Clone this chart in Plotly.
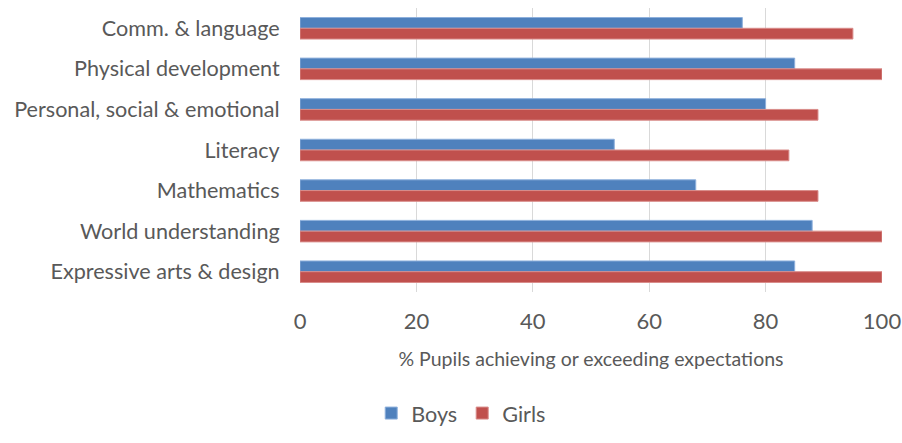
import plotly.graph_objects as go

categories = ['Comm. & language', 'Physical development', 'Personal, social & emotional',
              'Literacy', 'Mathematics', 'World understanding', 'Expressive arts & design']
boys = [76, 85, 80, 54, 68, 88, 85]
girls = [95, 100, 89, 84, 89, 100, 100]

font_family = "Lato, Open Sans, sans-serif"
grey = '#595959'

fig = go.Figure()
fig.add_trace(go.Bar(y=categories, x=boys, name='Boys', orientation='h',
                     marker=dict(color='#4F81BD', line=dict(color='#8EB0DC', width=1))))
fig.add_trace(go.Bar(y=categories, x=girls, name='Girls', orientation='h',
                     marker=dict(color='#C0504D', line=dict(color='#D98C8A', width=1))))

fig.update_layout(
    width=902, height=443,
    margin=dict(l=300, r=20, t=8, b=144),
    plot_bgcolor='white', paper_bgcolor='white',
    barmode='group', bargap=0.47, bargroupgap=0,
    font=dict(family=font_family, size=21.6, color=grey),
    xaxis=dict(range=[0, 100], dtick=20, showgrid=True, gridcolor='#D9D9D9', gridwidth=1,
               zeroline=False, showline=False, automargin=False,
               ticks='outside', ticklen=10, tickcolor='rgba(0,0,0,0)',
               title=dict(text='% Pupils achieving or exceeding expectations',
                          font=dict(size=19.5, color=grey), standoff=18),
               tickfont=dict(size=22, color=grey)),
    yaxis=dict(autorange='reversed', showgrid=False, zeroline=False, showline=False,
               automargin=False,
               ticks='outside', ticklen=15, tickcolor='rgba(0,0,0,0)',
               tickfont=dict(size=21.6, color=grey)),
    legend=dict(orientation='h', x=0.277, xanchor='center', y=-0.354, yanchor='top',
                font=dict(size=21.6, color=grey), traceorder='normal',
                itemwidth=30, tracegroupgap=0),
)

# drop the default body margin so the figure fills the window exactly
fig.write_html("out.html", config={'displayModeBar': False},
               post_script="document.body.style.margin='0px';")
